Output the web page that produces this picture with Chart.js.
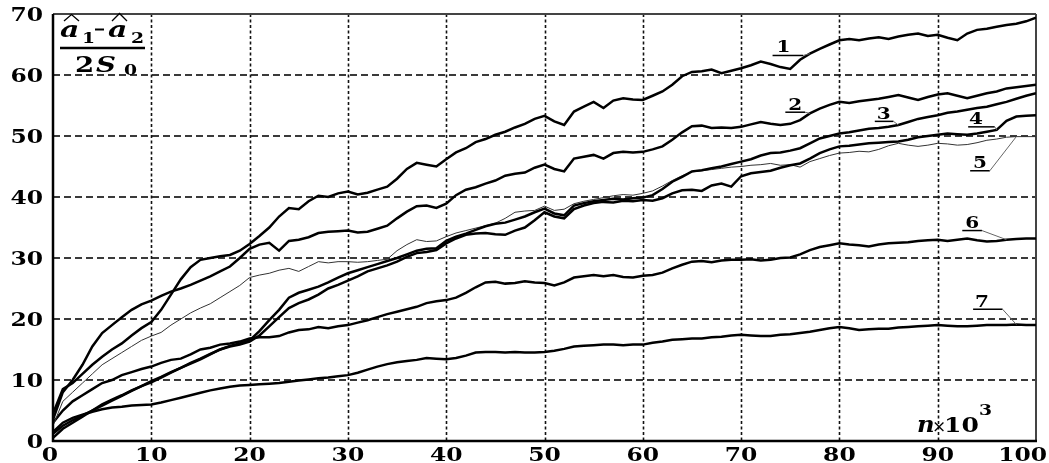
<!DOCTYPE html>
<html>
<head>
<meta charset="utf-8">
<script src="https://cdn.jsdelivr.net/npm/chart.js@4"></script>
<style>
  html, body { margin: 0; padding: 0; background: #fff; }
  canvas { display: block; }
</style>
</head>
<body>
<canvas id="chart" width="1049" height="463"></canvas>
<script>
// n x 10^3, one reading per thousand
const xTicks = [0, 10, 20, 30, 40, 50, 60, 70, 80, 90, 100];
const yTicks = [0, 10, 20, 30, 40, 50, 60, 70];

const curve1 = [4.5, 8.5, 9.5, 11, 12.5, 13.8, 15, 16, 17.3, 18.5,
  19.5, 21.5, 24, 26.5, 28.5, 29.7, 30, 30.3, 30.5, 31.2,
  32.3, 33.6, 35, 36.8, 38.2, 38, 39.3, 40.2, 40, 40.6,
  40.9, 40.4, 40.7, 41.2, 41.7, 43, 44.6, 45.6, 45.3, 45,
  46.2, 47.3, 48, 49, 49.5, 50.2, 50.7, 51.4, 52, 52.8,
  53.3, 52.4, 51.8, 54, 54.8, 55.6, 54.6, 55.8, 56.2, 56,
  55.9, 56.6, 57.3, 58.4, 59.8, 60.5, 60.6, 60.9, 60.3, 60.7,
  61.1, 61.6, 62.2, 61.8, 61.3, 61, 62.5, 63.5, 64.3, 65,
  65.7, 65.9, 65.7, 66, 66.2, 65.9, 66.3, 66.6, 66.8, 66.4,
  66.6, 66.1, 65.7, 66.8, 67.4, 67.6, 67.9, 68.2, 68.4, 68.8,
  69.4];

const curve2 = [3.5, 8, 10, 12.5, 15.5, 17.7, 19, 20.3, 21.5, 22.4,
  23, 23.8, 24.5, 25, 25.6, 26.3, 27, 27.8, 28.6, 30,
  31.5, 32.2, 32.5, 31.2, 32.8, 33, 33.4, 34.1, 34.3, 34.4,
  34.5, 34.2, 34.3, 34.8, 35.3, 36.5, 37.6, 38.5, 38.6, 38.2,
  38.9, 40.3, 41.2, 41.6, 42.2, 42.7, 43.5, 43.8, 44, 44.8,
  45.3, 44.6, 44.2, 46.3, 46.6, 46.9, 46.3, 47.2, 47.4, 47.3,
  47.4, 47.8, 48.3, 49.4, 50.6, 51.6, 51.7, 51.3, 51.4, 51.3,
  51.5, 51.9, 52.3, 52, 51.8, 52, 52.6, 53.7, 54.5, 55.1,
  55.6, 55.4, 55.7, 55.9, 56.1, 56.4, 56.7, 56.3, 55.9, 56.4,
  56.8, 57, 56.6, 56.2, 56.6, 57, 57.3, 57.8, 58, 58.2,
  58.4];

const curve3 = [0.5, 2, 3, 4, 5, 6, 6.8, 7.5, 8.3, 9,
  9.8, 10.5, 11.3, 12, 12.8, 13.5, 14.3, 15, 15.6, 16,
  16.5, 18, 19.8, 21.5, 23.5, 24.3, 24.8, 25.3, 26, 26.8,
  27.5, 28, 28.5, 29, 29.5, 30, 30.6, 31.2, 31.5, 31.6,
  32.8, 33.5, 34, 34.6, 35.2, 35.6, 35.8, 36.3, 36.8, 37.5,
  38.1, 37.3, 37, 38.6, 39, 39.3, 39.5, 39.7, 39.6, 39.8,
  39.9, 40.3, 41.3, 42.5, 43.3, 44.2, 44.4, 44.7, 45, 45.4,
  45.8, 46.2, 46.8, 47.2, 47.3, 47.6, 48, 48.8, 49.6, 50,
  50.4, 50.6, 50.9, 51.2, 51.3, 51.5, 51.8, 52.3, 52.8, 53.1,
  53.4, 53.8, 54, 54.3, 54.6, 54.8, 55.2, 55.6, 56.1, 56.6,
  57];

const curve4 = [1.2, 2.5, 3.4, 4.2, 5, 5.8, 6.6, 7.4, 8.2, 9,
  9.6, 10.4, 11.2, 12, 12.7, 13.4, 14.2, 15, 15.5, 15.8,
  16.3, 17.3, 18.8, 20.3, 21.8, 22.6, 23.2, 24, 25, 25.6,
  26.3, 27, 27.8, 28.3, 28.8, 29.4, 30.2, 30.8, 31, 31.3,
  32.4, 33.2, 33.8, 34, 34.1, 33.9, 33.8, 34.5, 35, 36.2,
  37.5, 36.8, 36.5, 38, 38.6, 39, 39.2, 39.1, 39.4, 39.3,
  39.5, 39.4, 39.8, 40.6, 41.1, 41.2, 41, 41.9, 42.2, 41.7,
  43.4, 43.9, 44.1, 44.3, 44.8, 45.2, 45.5, 46.3, 47.2, 47.8,
  48.3, 48.4, 48.6, 48.8, 48.9, 49, 49.1, 49.4, 49.8, 50,
  50.2, 50.4, 50.3, 50.2, 50.4, 50.7, 51, 52.5, 53.2, 53.3,
  53.4];

const curve5 = [2.5, 6.5, 8, 9.5, 11, 12.5, 13.5, 14.5, 15.5, 16.5,
  17.2, 17.8, 19, 20, 21, 21.8, 22.5, 23.5, 24.5, 25.5,
  26.8, 27.2, 27.5, 28, 28.3, 27.8, 28.6, 29.4, 29.2, 29.4,
  29.4, 29.3, 29.4, 29.6, 29.8, 31.2, 32.2, 33, 32.7, 32.8,
  33.5, 34.1, 34.5, 34.9, 35.3, 35.7, 36.5, 37.5, 37.7, 37.8,
  38.5, 37.8, 38, 38.9, 39.3, 39.6, 39.9, 40.2, 40.4, 40.3,
  40.6, 41, 41.8, 42.7, 43.5, 44.1, 44.3, 44.5, 44.7, 44.9,
  45, 45.2, 45.3, 45.5, 45.2, 45.3, 44.9, 45.8, 46.3, 46.8,
  47.2, 47.3, 47.5, 47.4, 47.8, 48.4, 48.8, 48.5, 48.3, 48.5,
  48.8, 48.7, 48.5, 48.6, 48.9, 49.3, 49.5, 49.8, 49.9, 49.9,
  49.9];

const curve6 = [3, 5, 6.5, 7.5, 8.5, 9.5, 10, 10.8, 11.3, 11.8,
  12.2, 12.8, 13.3, 13.5, 14.2, 15, 15.3, 15.8, 16, 16.3,
  16.8, 17, 17, 17.2, 17.8, 18.2, 18.3, 18.7, 18.5, 18.8,
  19, 19.4, 19.8, 20.3, 20.8, 21.2, 21.6, 22, 22.6, 22.9,
  23.1, 23.5, 24.3, 25.2, 26, 26.1, 25.8, 25.9, 26.2, 26,
  25.9, 25.5, 26, 26.8, 27, 27.2, 27, 27.2, 26.9, 26.8,
  27.1, 27.2, 27.6, 28.3, 28.9, 29.4, 29.5, 29.3, 29.6, 29.7,
  29.7, 29.8, 29.6, 29.7, 30, 30.1, 30.6, 31.3, 31.8, 32.1,
  32.4, 32.2, 32.1, 31.9, 32.2, 32.4, 32.5, 32.6, 32.8, 32.9,
  33, 32.8, 33, 33.2, 32.9, 32.7, 32.8, 33, 33.1, 33.2,
  33.2];

const curve7 = [1.5, 3, 3.8, 4.3, 4.8, 5.2, 5.5, 5.6, 5.8, 5.9,
  6, 6.3, 6.7, 7.1, 7.5, 7.9, 8.3, 8.6, 8.9, 9.1,
  9.2, 9.3, 9.4, 9.5, 9.7, 9.9, 10.1, 10.3, 10.4, 10.6,
  10.8, 11.2, 11.7, 12.2, 12.6, 12.9, 13.1, 13.3, 13.6, 13.5,
  13.4, 13.6, 14, 14.5, 14.6, 14.6, 14.5, 14.6, 14.5, 14.5,
  14.6, 14.8, 15.1, 15.5, 15.6, 15.7, 15.8, 15.8, 15.7, 15.8,
  15.8, 16.1, 16.3, 16.6, 16.7, 16.8, 16.8, 17, 17.1, 17.3,
  17.4, 17.3, 17.2, 17.2, 17.4, 17.5, 17.7, 17.9, 18.2, 18.5,
  18.7, 18.5, 18.2, 18.3, 18.4, 18.4, 18.6, 18.7, 18.8, 18.9,
  19, 18.9, 18.8, 18.8, 18.9, 19, 19, 19, 19.1, 19,
  19];

const curves = [curve1, curve2, curve3, curve4, curve5, curve6, curve7];
const curveNames = ["1", "2", "3", "4", "5", "6", "7"];

// curve number labels: text spot, underline span, index where the leader meets the curve
const curveTags = [
  { t: "1", n: 74.3, v: 63.8, u0: 73.2, u1: 76.3, uv: 63.2, hit: 77 },
  { t: "2", n: 75.5, v: 54.3, u0: 74.5, u1: 76.5, uv: 53.9, hit: 77 },
  { t: "3", n: 84.5, v: 52.8, u0: 83.6, u1: 85.5, uv: 52.4, hit: 86 },
  { t: "4", n: 93.9, v: 52.0, u0: 93.1, u1: 95.8, uv: 51.5, hit: 96 },
  { t: "5", n: 94.3, v: 44.8, u0: 93.3, u1: 95.3, uv: 44.3, hit: 98 },
  { t: "6", n: 93.5, v: 34.9, u0: 92.5, u1: 94.5, uv: 34.5, hit: 97 },
  { t: "7", n: 94.5, v: 22.0, u0: 93.6, u1: 96.6, uv: 21.6, hit: 98 },
];

const SERIF = '"DejaVu Serif", "Liberation Serif", serif';
const SX = 1.3; // text in the source is drawn wide

function txt(ctx, s, x, y, font, align, sx) {
  ctx.save();
  ctx.translate(x, y);
  ctx.scale(sx || SX, 1);
  ctx.font = font;
  ctx.textAlign = align || "left";
  ctx.textBaseline = "alphabetic";
  ctx.fillStyle = "#000";
  ctx.fillText(s, 0, 0);
  ctx.restore();
}

function seg(ctx, x0, y0, x1, y1, w, c, dash) {
  ctx.save();
  ctx.beginPath();
  ctx.setLineDash(dash || []);
  ctx.moveTo(x0, y0);
  ctx.lineTo(x1, y1);
  ctx.lineWidth = w;
  ctx.strokeStyle = c;
  ctx.stroke();
  ctx.restore();
}

// grid + frame, under the curves
const gridLines = {
  id: "gridLines",
  beforeDatasetsDraw(chart) {
    const ctx = chart.ctx;
    const a = chart.chartArea;
    const xs = chart.scales.x;
    const ys = chart.scales.y;
    yTicks.slice(1, -1).forEach(v => {
      const y = Math.round(ys.getPixelForValue(v));
      seg(ctx, a.left, y, a.right, y, 2, "#3a3a3a", [7, 4]);
    });
    xTicks.slice(1, -1).forEach(v => {
      const x = Math.round(xs.getPixelForValue(v)) + 0.5;
      seg(ctx, x, a.top, x, a.bottom, 1.6, "#111", [3, 2.5]);
    });
    seg(ctx, a.left, Math.round(a.top), a.right, Math.round(a.top), 2, "#444");
    seg(ctx, Math.round(a.right), a.top, Math.round(a.right), a.bottom, 2, "#444");
  },
  afterDatasetsDraw(chart) {
    const a = chart.chartArea;
    seg(chart.ctx, a.left, a.top, a.left, a.bottom + 1, 2.5, "#000");
    seg(chart.ctx, a.left - 1, a.bottom, a.right + 1, a.bottom, 2.5, "#000");
  }
};

const decor = {
  id: "decor",
  afterDraw(chart) {
    const ctx = chart.ctx;
    const a = chart.chartArea;
    const xs = chart.scales.x;
    const ys = chart.scales.y;

    // tick labels
    const tickFont = "bold 18px " + SERIF;
    yTicks.forEach(v => {
      txt(ctx, String(v), a.left - 10, ys.getPixelForValue(v) + 6.5, tickFont, "right");
    });
    ctx.save();
    ctx.font = tickFont;
    xTicks.forEach(v => {
      const w = ctx.measureText(String(v)).width * SX;
      let cx = xs.getPixelForValue(v);
      if (cx + w / 2 > chart.width - 2) cx = chart.width - 2 - w / 2;
      if (v === 0) cx -= 3;
      txt(ctx, String(v), cx, a.bottom + 20, tickFont, "center");
    });
    ctx.restore();

    // curve labels with underline and leader
    curveTags.forEach(tag => {
      const tx = xs.getPixelForValue(tag.n);
      const ty = ys.getPixelForValue(tag.v);
      txt(ctx, tag.t, tx, ty, "bold 16px " + SERIF, "center", 1.25);
      const ux0 = xs.getPixelForValue(tag.u0);
      const ux1 = xs.getPixelForValue(tag.u1);
      const uy = ys.getPixelForValue(tag.uv);
      seg(ctx, ux0, uy, ux1, uy, 1.5, "#000");
      const c = curves[curveNames.indexOf(tag.t)];
      const hx = xs.getPixelForValue(tag.hit);
      const hy = ys.getPixelForValue(c[tag.hit]);
      seg(ctx, ux1, uy, hx, hy, 1, "#666");
    });

    // y quantity: (a1^ - a2^) / 2 S0
    const L = a.left, T = a.top;
    const aFont = "italic bold 23px " + SERIF;
    const subFont = "bold 15px " + SERIF;
    txt(ctx, "a", L + 7, T + 23, aFont, "left", 1.3);
    txt(ctx, "1", L + 29, T + 29, subFont, "left", 1.25);
    seg(ctx, L + 42, T + 15.5, L + 51, T + 15.5, 2, "#000");
    txt(ctx, "a", L + 55, T + 23, aFont, "left", 1.3);
    txt(ctx, "2", L + 78, T + 29, subFont, "left", 1.25);
    ctx.save();
    ctx.strokeStyle = "#000";
    ctx.lineWidth = 1.3;
    ctx.beginPath();
    ctx.moveTo(L + 11, T + 7); ctx.lineTo(L + 18.5, T + 0.5); ctx.lineTo(L + 26, T + 7);
    ctx.moveTo(L + 59, T + 7); ctx.lineTo(L + 66.5, T - 0.5); ctx.lineTo(L + 74, T + 7);
    ctx.stroke();
    ctx.restore();
    seg(ctx, L + 7, T + 34, L + 92, T + 34, 2.5, "#000");
    txt(ctx, "2", L + 22, T + 58, "bold 23px " + SERIF, "left", 1.2);
    txt(ctx, "S", L + 43, T + 58, "italic bold 23px " + SERIF, "left", 1.2);
    txt(ctx, "0", L + 71, T + 61, subFont, "left", 1.25);

    // x quantity: n x 10^3
    const R = a.right, B = a.bottom;
    txt(ctx, "n", R - 119, B - 9, "italic bold 22px " + SERIF, "left", 1.1);
    txt(ctx, "\u00d7", R - 104, B - 9, "17px " + SERIF, "left", 1.0);
    txt(ctx, "10", R - 92, B - 9, "bold 20px " + SERIF, "left", 1.25);
    txt(ctx, "3", R - 57, B - 26, "bold 15px " + SERIF, "left", 1.25);
  }
};

const datasets = curves.map((c, k) => ({
  label: curveNames[k],
  data: c.map((v, i) => ({ x: i, y: v })),
  borderColor: k === 4 ? "#333" : "#000",
  borderWidth: k === 4 ? 1 : 2.5,
  pointRadius: 0,
  tension: 0,
  fill: false,
}));

new Chart(document.getElementById("chart").getContext("2d"), {
  type: "line",
  data: { datasets },
  options: {
    responsive: false,
    animation: false,
    devicePixelRatio: 1,
    layout: { padding: { top: 14, right: 13, left: 0, bottom: 0 } },
    plugins: { legend: { display: false }, tooltip: { enabled: false } },
    scales: {
      x: {
        type: "linear",
        min: 0,
        max: 100,
        ticks: { stepSize: 10, display: false },
        grid: { display: false },
        border: { display: false },
        afterFit(s) { s.height = 22; s.paddingLeft = 0; s.paddingRight = 0; },
      },
      y: {
        min: 0,
        max: 70,
        ticks: { stepSize: 10, display: false },
        grid: { display: false },
        border: { display: false },
        afterFit(s) { s.width = 53; s.paddingTop = 0; s.paddingBottom = 0; },
      },
    },
  },
  plugins: [gridLines, decor],
});
</script>
</body>
</html>
